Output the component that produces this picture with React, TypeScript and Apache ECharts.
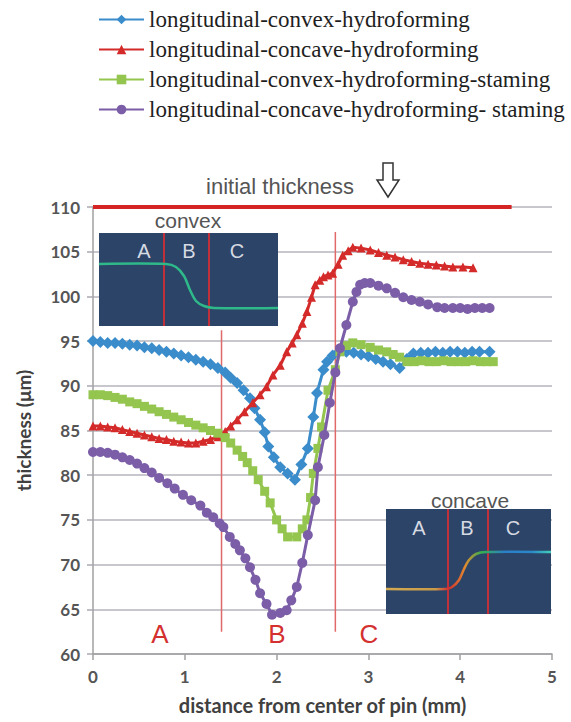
import React, { useEffect, useRef } from "react";
import * as echarts from "echarts";

// ---------- data ----------
const SERIES_NAMES = [
  "longitudinal-convex-hydroforming",
  "longitudinal-concave-hydroforming",
  "longitudinal-convex-hydroforming-staming",
  "longitudinal-concave-hydroforming- staming",
];

const convexHydroX = [0,0.08,0.16,0.24,0.32,0.40,0.48,0.56,0.64,0.72,0.80,0.88,0.96,1.04,1.12,1.20,1.28,1.36,1.44,1.50,1.57,1.64,1.71,1.76,1.82,1.87,1.91,1.97,2.04,2.12,2.20,2.27,2.34,2.40,2.44,2.51,2.55,2.61,2.68,2.76,2.84,2.92,3.00,3.08,3.16,3.24,3.34,3.42,3.49,3.57,3.65,3.73,3.81,3.89,3.97,4.05,4.13,4.21,4.32];
const convexHydroY = [95.0,94.9,94.8,94.8,94.7,94.6,94.5,94.3,94.2,94.0,93.8,93.6,93.4,93.2,92.9,92.7,92.4,92.0,91.5,90.9,90.3,89.5,88.6,87.5,86.2,84.8,83.2,82.0,80.9,80.2,79.5,81.2,83.0,86.5,89.2,91.8,92.7,93.4,93.8,93.8,93.7,93.5,93.3,93.0,92.7,92.4,92.0,93.0,93.6,93.7,93.7,93.8,93.7,93.8,93.8,93.7,93.8,93.8,93.8];

const concaveHydroX = [0,0.08,0.16,0.24,0.32,0.40,0.48,0.56,0.64,0.72,0.80,0.88,0.96,1.04,1.12,1.20,1.28,1.36,1.44,1.50,1.57,1.65,1.74,1.82,1.89,1.96,2.04,2.11,2.17,2.22,2.28,2.33,2.38,2.42,2.47,2.51,2.56,2.61,2.67,2.72,2.78,2.83,2.92,3.02,3.11,3.20,3.29,3.38,3.47,3.56,3.65,3.74,3.83,3.92,4.03,4.14];
const concaveHydroY = [85.5,85.5,85.4,85.3,85.1,84.9,84.7,84.5,84.3,84.1,84.0,83.8,83.7,83.6,83.6,83.8,84.0,84.3,84.9,85.5,86.2,87.1,88.1,89.0,89.9,91.2,92.3,93.8,94.8,95.7,97.0,98.3,99.9,101.3,101.8,102.2,102.4,102.6,103.6,104.6,105.1,105.5,105.4,105.2,104.9,104.6,104.4,104.1,103.9,103.7,103.6,103.5,103.4,103.3,103.3,103.2];

const convexStampX = [0,0.08,0.16,0.24,0.32,0.40,0.48,0.56,0.64,0.72,0.80,0.88,0.96,1.04,1.12,1.20,1.28,1.36,1.44,1.50,1.57,1.63,1.68,1.74,1.80,1.87,1.93,2.00,2.06,2.12,2.22,2.28,2.33,2.37,2.40,2.45,2.49,2.56,2.64,2.69,2.76,2.83,2.92,3.02,3.11,3.20,3.27,3.34,3.42,3.50,3.58,3.66,3.74,3.82,3.90,3.98,4.06,4.14,4.22,4.29,4.36];
const convexStampY = [89.0,89.0,88.9,88.7,88.5,88.2,88.0,87.7,87.4,87.1,86.8,86.5,86.2,85.9,85.6,85.3,85.0,84.7,84.2,83.6,82.8,82.1,81.4,80.5,79.5,78.2,76.9,75.0,74.0,73.1,73.1,74.0,75.0,77.5,80.2,83.0,85.4,89.5,91.8,93.8,94.5,94.8,94.6,94.3,94.0,93.8,93.5,93.2,92.7,92.7,92.8,92.7,92.7,92.8,92.7,92.7,92.7,92.8,92.7,92.7,92.7];

const concaveStampX = [0,0.08,0.16,0.24,0.32,0.40,0.48,0.56,0.64,0.72,0.81,0.89,0.98,1.07,1.17,1.24,1.31,1.38,1.42,1.49,1.55,1.60,1.66,1.71,1.77,1.82,1.89,1.95,2.04,2.11,2.16,2.22,2.28,2.34,2.42,2.45,2.52,2.58,2.64,2.69,2.76,2.83,2.87,2.91,2.96,3.02,3.11,3.20,3.29,3.38,3.47,3.56,3.65,3.75,3.83,3.92,4.00,4.08,4.16,4.24,4.32];
const concaveStampY = [82.6,82.6,82.5,82.3,82.0,81.7,81.3,80.8,80.3,79.7,79.1,78.5,77.8,77.2,76.6,75.8,75.3,74.6,74.2,73.1,72.3,71.6,70.7,69.7,68.3,66.8,65.6,64.4,64.6,64.9,66.0,67.5,70.2,73.3,77.2,80.9,84.5,88.1,91.5,94.2,96.8,99.4,100.5,101.3,101.5,101.5,101.2,100.9,100.4,99.9,99.6,99.4,99.1,98.8,98.7,98.7,98.7,98.6,98.7,98.7,98.7];

const INITIAL_THICKNESS = 110;
const INITIAL_LINE_X = [0, 4.56];
const ZONE_BOUNDARIES = [
  { x: 1.4, yFrom: 62.5, yTo: 96.2 },
  { x: 2.64, yFrom: 62.5, yTo: 107.2 },
];
const ZONE_LABELS = ["A", "B", "C"];
const X_TICKS = [0, 1, 2, 3, 4, 5];
const Y_RANGE = [60, 110];

const COLORS = ["#3a8ccb", "#d42a2a", "#93c54f", "#7b5ea7"];
const SYMBOLS = ["diamond", "triangle", "rect", "circle"];
const SYMBOL_SIZES = [12, 9, 9, 10];

const SERIF = "serif";
const SANS = "Liberation Sans";
const AXIS_FONT = "Lato";

const zip = (xs: number[], ys: number[]) => xs.map((x, i) => [x, ys[i]]);

const SERIES_DATA = [
  zip(convexHydroX, convexHydroY),
  zip(concaveHydroX, concaveHydroY),
  zip(convexStampX, convexStampY),
  zip(concaveStampX, concaveStampY),
];

function buildOption() {
  const grid = { left: 93, top: 207, width: 459, height: 447 };
  const axisFont = { fontFamily: AXIS_FONT, fontWeight: "bold" as const, fontSize: 17, color: "#555" };

  const dataSeries = SERIES_DATA.map((d, i) => ({
    name: SERIES_NAMES[i],
    type: "line",
    data: d,
    symbol: SYMBOLS[i],
    symbolSize: SYMBOL_SIZES[i],
    showSymbol: true,
    color: COLORS[i],
    lineStyle: { width: 3, color: COLORS[i] },
    itemStyle: { color: COLORS[i] },
    z: 5 + i,
  }));

  const initLine = {
    name: "initial",
    type: "line",
    data: INITIAL_LINE_X.map((x) => [x, INITIAL_THICKNESS]),
    symbol: "none",
    lineStyle: { width: 4, color: "#d42424" },
    silent: true,
    z: 4,
  };

  const zoneLines = ZONE_BOUNDARIES.map((z, i) => ({
    name: "zone" + i,
    type: "line",
    data: [[z.x, z.yFrom], [z.x, z.yTo]],
    symbol: "none",
    lineStyle: { width: 1.5, color: "#e06a6a" },
    silent: true,
    z: 3,
  }));

  const cx0 = 99, cy0 = 233, cw = 179, ch = 93;
  const kx0 = 386, ky0 = 509, kw = 165, kh = 105;
  const letterStyle = { fill: "#d6dae2", fontSize: 20, fontFamily: SANS, align: "center", verticalAlign: "middle" };
  const zoneLabelX = [160, 277, 369];

  const graphic: any[] = [
    {
      type: "text", x: 280, y: 186, z: 100,
      style: { text: "initial thickness", fill: "#555", fontSize: 22, fontFamily: SANS, align: "center", verticalAlign: "middle" },
    },
    {
      type: "polygon", z: 100,
      shape: { points: [[383, 163], [393, 163], [393, 180], [399, 180], [388, 197], [377, 180], [383, 180]] },
      style: { fill: "#fff", stroke: "#333", lineWidth: 1.5 },
    },
    {
      type: "text", z: 100, x: 188, y: 220,
      style: { text: "convex", fill: "#555", fontSize: 21, fontFamily: SANS, align: "center", verticalAlign: "middle" },
    },
    { type: "rect", z: 100, shape: { x: cx0, y: cy0, width: cw, height: ch }, style: { fill: "#2c4467" } },
    { type: "line", z: 101, shape: { x1: 164, y1: cy0, x2: 164, y2: cy0 + ch }, style: { stroke: "#c0303a", lineWidth: 2 } },
    { type: "line", z: 101, shape: { x1: 209, y1: cy0, x2: 209, y2: cy0 + ch }, style: { stroke: "#c0303a", lineWidth: 2 } },
    { type: "text", z: 102, x: 144, y: 251, style: { ...letterStyle, text: "A" } },
    { type: "text", z: 102, x: 189, y: 251, style: { ...letterStyle, text: "B" } },
    { type: "text", z: 102, x: 237, y: 251, style: { ...letterStyle, text: "C" } },
    {
      type: "polyline", z: 102,
      shape: { points: [[99, 264], [166, 264], [176, 267], [184, 276], [190, 290], [196, 301], [204, 306], [214, 308], [278, 308]], smooth: 0.3 },
      style: { stroke: "#2fb88a", lineWidth: 2.5, fill: null },
    },
    {
      type: "text", z: 100, x: 470, y: 500,
      style: { text: "concave", fill: "#555", fontSize: 21, fontFamily: SANS, align: "center", verticalAlign: "middle" },
    },
    { type: "rect", z: 100, shape: { x: kx0, y: ky0, width: kw, height: kh }, style: { fill: "#2c4467" } },
    { type: "line", z: 101, shape: { x1: 448, y1: ky0, x2: 448, y2: ky0 + kh }, style: { stroke: "#c0303a", lineWidth: 2 } },
    { type: "line", z: 101, shape: { x1: 488, y1: ky0, x2: 488, y2: ky0 + kh }, style: { stroke: "#c0303a", lineWidth: 2 } },
    { type: "text", z: 102, x: 419, y: 528, style: { ...letterStyle, text: "A" } },
    { type: "text", z: 102, x: 467, y: 528, style: { ...letterStyle, text: "B" } },
    { type: "text", z: 102, x: 513, y: 528, style: { ...letterStyle, text: "C" } },
    {
      type: "polyline", z: 102,
      shape: { points: [[386, 589], [446, 589], [452, 587], [459, 580], [464, 569], [469, 560], [476, 554], [486, 552], [551, 552]], smooth: 0.3 },
      style: {
        lineWidth: 2.5, fill: null,
        stroke: new echarts.graphic.LinearGradient(0, 0, 1, 0, [
          { offset: 0, color: "#d2aa52" },
          { offset: 0.3, color: "#c99a48" },
          { offset: 0.38, color: "#d03030" },
          { offset: 0.48, color: "#e08a30" },
          { offset: 0.58, color: "#34b050" },
          { offset: 0.72, color: "#2a80c8" },
          { offset: 0.88, color: "#2a88c8" },
          { offset: 1, color: "#40d0b8" },
        ]),
      },
    },
    ...ZONE_LABELS.map((t, i) => ({
      type: "text", z: 100, x: zoneLabelX[i], y: 634,
      style: { text: t, fill: "#d43030", fontSize: 26, fontFamily: SANS, align: "center", verticalAlign: "middle" },
    })),
  ];

  return {
    animation: false,
    backgroundColor: "#ffffff",
    grid,
    legend: {
      data: SERIES_NAMES,
      orient: "vertical",
      left: 98,
      top: 8,
      padding: 0,
      itemGap: 7,
      itemWidth: 45,
      itemHeight: 12,
      textStyle: { fontFamily: SERIF, fontSize: 23, color: "#1e1e1e", fontWeight: "normal" },
    },
    xAxis: {
      type: "value",
      min: X_TICKS[0],
      max: X_TICKS[X_TICKS.length - 1],
      interval: 1,
      name: "distance from center of pin (mm)",
      nameLocation: "middle",
      nameGap: 41,
      nameTextStyle: { fontFamily: AXIS_FONT, fontWeight: "bold", fontSize: 20, color: "#404040" },
      axisLine: { show: true, lineStyle: { color: "#a0a0a0", width: 1.5 } },
      axisTick: { show: true, length: 6, lineStyle: { color: "#a0a0a0", width: 1.5 } },
      axisLabel: { ...axisFont, margin: 14 },
      splitLine: { show: false },
    },
    yAxis: {
      type: "value",
      min: Y_RANGE[0],
      max: Y_RANGE[1],
      interval: 5,
      name: "thickness (μm)",
      nameLocation: "middle",
      nameGap: 60,
      nameTextStyle: { fontFamily: AXIS_FONT, fontWeight: "bold", fontSize: 19, color: "#404040" },
      axisLine: { show: true, lineStyle: { color: "#a0a0a0", width: 1.5 } },
      axisTick: { show: true, length: 6, lineStyle: { color: "#a8a8b0", width: 1.5 } },
      axisLabel: { ...axisFont, margin: 13 },
      splitLine: { show: true, lineStyle: { color: "#b4b4bc", width: 1.5 } },
    },
    series: [...zoneLines, initLine, ...dataSeries],
    graphic,
  };
}

export default function App() {
  const ref = useRef<HTMLDivElement>(null);
  useEffect(() => {
    document.body.style.margin = "0";
    if (!ref.current) return;
    const chart = echarts.init(ref.current, undefined, { renderer: "svg" });
    chart.setOption(buildOption() as any);
    return () => chart.dispose();
  }, []);
  return <div ref={ref} style={{ width: 571, height: 722 }} />;
}
